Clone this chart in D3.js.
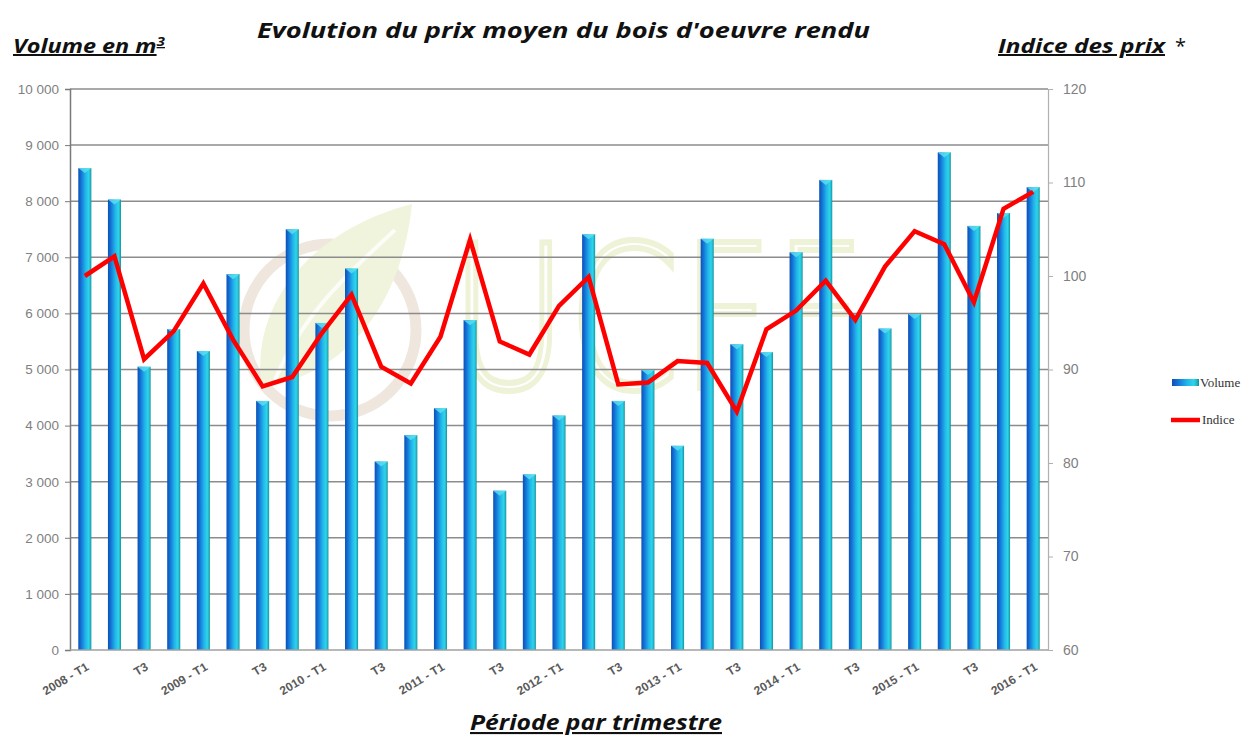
<!DOCTYPE html>
<html><head><meta charset="utf-8">
<script src="https://cdn.jsdelivr.net/npm/d3@7"></script>
<style>body{margin:0;background:#fff}svg{display:block}</style>
</head><body>
<svg id="c" width="1252" height="737"></svg>
<script>
const periods = ["2008 - T1","T2","T3","T4","2009 - T1","T2","T3","T4","2010 - T1","T2","T3","T4","2011 - T1","T2","T3","T4","2012 - T1","T2","T3","T4","2013 - T1","T2","T3","T4","2014 - T1","T2","T3","T4","2015 - T1","T2","T3","T4","2016 - T1"];
const volume = [8590,8030,5050,5720,5330,6700,4440,7500,5830,6800,3360,3830,4310,5880,2840,3130,4180,7410,4440,4990,3640,7330,5450,5310,7090,8380,5980,5730,5990,8870,7560,7790,8250];
const indice = [100.0,102.1,91.1,94.1,99.2,93.2,88.2,89.2,93.9,98.0,90.3,88.5,93.5,103.9,93.0,91.6,96.8,99.9,88.4,88.6,90.9,90.7,85.5,94.3,96.3,99.5,95.3,101.0,104.8,103.4,97.2,107.2,109.0];
const leftTicks = [0,1000,2000,3000,4000,5000,6000,7000,8000,9000,10000];
const rightTicks = [60,70,80,90,100,110,120];
const shownLabels = ["2008 - T1","T3","2009 - T1","T3","2010 - T1","T3","2011 - T1","T3","2012 - T1","T3","2013 - T1","T3","2014 - T1","T3","2015 - T1","T3","2016 - T1"];

const svg = d3.select("#c");
const L = 70, R = 1048, T = 89, B = 650;
const idx = d3.range(periods.length);
const x = d3.scaleBand().domain(idx).range([L, R]).paddingInner(0.56).paddingOuter(0.28);
const yL = d3.scaleLinear().domain([0, 10000]).range([B, T]);
const yR = d3.scaleLinear().domain([60, 120]).range([B, T]);

// gradient
const defs = svg.append("defs");
const g = defs.append("linearGradient").attr("id","barg").attr("x1","0").attr("x2","1").attr("y1","0").attr("y2","0");
[[0,"#0b4fb8"],[0.25,"#1578d8"],[0.55,"#21b4ea"],[0.8,"#2fd3ea"],[0.92,"#1fb6c6"],[1,"#128a96"]].forEach(([o,c])=>g.append("stop").attr("offset",o).attr("stop-color",c));

// watermark
const wm = svg.append("g");
wm.append("circle").attr("cx",330).attr("cy",330).attr("r",86).attr("fill","none").attr("stroke","#efe6de").attr("stroke-width",11);
wm.append("path").attr("d","M262,388 C248,300 318,228 412,204 C402,300 352,372 262,388 Z").attr("fill","#f1f4dc");
wm.append("path").attr("d","M275,380 C300,320 340,280 395,230").attr("fill","none").attr("stroke","#fff").attr("stroke-width",4).attr("opacity",0.8);
wm.append("text").attr("x",450).attr("y",388).attr("font-family","DejaVu Sans").attr("font-weight","200").attr("font-size",200)
  .attr("fill","none").attr("stroke","#eef2d6").attr("stroke-width",6).attr("textLength",415).attr("lengthAdjust","spacingAndGlyphs").text("UCFF");

// gridlines
svg.append("g").selectAll("line").data(leftTicks.filter(d=>d>0)).join("line")
  .attr("x1",L).attr("x2",R).attr("y1",d=>yL(d)).attr("y2",d=>yL(d))
  .attr("stroke","#8c8c8c").attr("stroke-width",1.5);

// left axis
const axL = svg.append("g").attr("transform",`translate(${L},0)`)
  .call(d3.axisLeft(yL).tickValues(leftTicks).tickSize(5).tickPadding(6).tickFormat(d=>d3.format(",")(d).replace(/,/g," ")));
axL.select(".domain").attr("stroke","#7a7a7a").attr("stroke-width",1.5);
axL.selectAll(".tick line").attr("stroke","#7a7a7a");
axL.selectAll("text").attr("font-family","Liberation Sans, Arial").attr("font-size",13.5).attr("fill","#7f7f7f");

// right axis
const axR = svg.append("g").attr("transform",`translate(${R},0)`)
  .call(d3.axisRight(yR).tickValues(rightTicks).tickSize(5).tickPadding(10));
axR.select(".domain").attr("stroke","#b0b0b0").attr("stroke-width",1.2);
axR.selectAll(".tick line").attr("stroke","#b0b0b0");
axR.selectAll("text").attr("font-family","Liberation Sans, Arial").attr("font-size",14).attr("fill","#7f7f7f");

// bars
const bars = svg.append("g");
bars.selectAll("rect").data(volume).join("rect")
  .attr("x",(d,i)=>x(i)).attr("width",x.bandwidth())
  .attr("y",d=>yL(d)).attr("height",d=>B-yL(d))
  .attr("fill","url(#barg)");
bars.selectAll("path.cap").data(volume).join("path").attr("class","cap")
  .attr("d",(d,i)=>{const x0=x(i),w=x.bandwidth(),y0=yL(d);return `M${x0},${y0} L${x0+w},${y0} L${x0+w/2},${y0+5} Z`;})
  .attr("fill","#5fe0f0").attr("opacity",0.8);

// bottom axis line
svg.append("line").attr("x1",L).attr("x2",R).attr("y1",B).attr("y2",B).attr("stroke","#a0a0a0").attr("stroke-width",1.5);

// line
const line = d3.line().x((d,i)=>x(i)+x.bandwidth()/2).y(d=>yR(d));
svg.append("path").datum(indice).attr("d",line).attr("fill","none").attr("stroke","#ff0000").attr("stroke-width",4.5).attr("stroke-linejoin","miter");

// x labels
const labIdx = idx.filter(i=>i%2===0);
svg.append("g").selectAll("text").data(labIdx).join("text")
  .attr("transform",i=>`translate(${x(i)+x.bandwidth()/2+5},${B+19}) rotate(-31)`)
  .attr("text-anchor","end").attr("font-family","Liberation Sans, Arial").attr("font-weight","bold")
  .attr("font-size",12).attr("fill","#5a5a5a").text((i,k)=>shownLabels[k]);

// titles
const tf = "Open Sans, Noto Sans, sans-serif";
svg.append("text").attr("x",257).attr("y",38).attr("font-family",tf).attr("font-weight","bold").attr("font-style","italic")
  .attr("font-size",22).attr("fill","#111").attr("textLength",613).attr("lengthAdjust","spacingAndGlyphs")
  .text("Evolution du prix moyen du bois d'oeuvre rendu");
const v = svg.append("text").attr("x",13).attr("y",53).attr("font-family",tf).attr("font-weight","bold").attr("font-style","italic")
  .attr("font-size",20).attr("fill","#111").attr("text-decoration","underline").attr("textLength",152).attr("lengthAdjust","spacingAndGlyphs");
v.append("tspan").text("Volume en m");
v.append("tspan").attr("font-size",13).attr("dy",-7).text("3");
svg.append("text").attr("x",998).attr("y",53).attr("font-family",tf).attr("font-weight","bold").attr("font-style","italic")
  .attr("font-size",20).attr("fill","#111").attr("text-decoration","underline").attr("textLength",167).attr("lengthAdjust","spacingAndGlyphs")
  .text("Indice des prix");
svg.append("text").attr("x",1175).attr("y",53).attr("font-family",tf).attr("font-size",20).attr("fill","#111").text("*");
svg.append("text").attr("x",470).attr("y",730).attr("font-family",tf).attr("font-weight","bold").attr("font-style","italic")
  .attr("font-size",21).attr("fill","#111").attr("text-decoration","underline").attr("textLength",252).attr("lengthAdjust","spacingAndGlyphs")
  .text("Période par trimestre");

// legend
const lg = svg.append("g");
lg.append("rect").attr("x",1172).attr("y",379).attr("width",27).attr("height",7).attr("fill","url(#barg)");
lg.append("text").attr("x",1200).attr("y",387).attr("font-family","Liberation Serif, Times New Roman, serif").attr("font-size",13).attr("fill","#333").text("Volume");
lg.append("line").attr("x1",1171).attr("x2",1200).attr("y1",420).attr("y2",420).attr("stroke","#ff0000").attr("stroke-width",4.5);
lg.append("text").attr("x",1202).attr("y",424).attr("font-family","Liberation Serif, Times New Roman, serif").attr("font-size",13).attr("fill","#333").text("Indice");
</script>
</body></html>
